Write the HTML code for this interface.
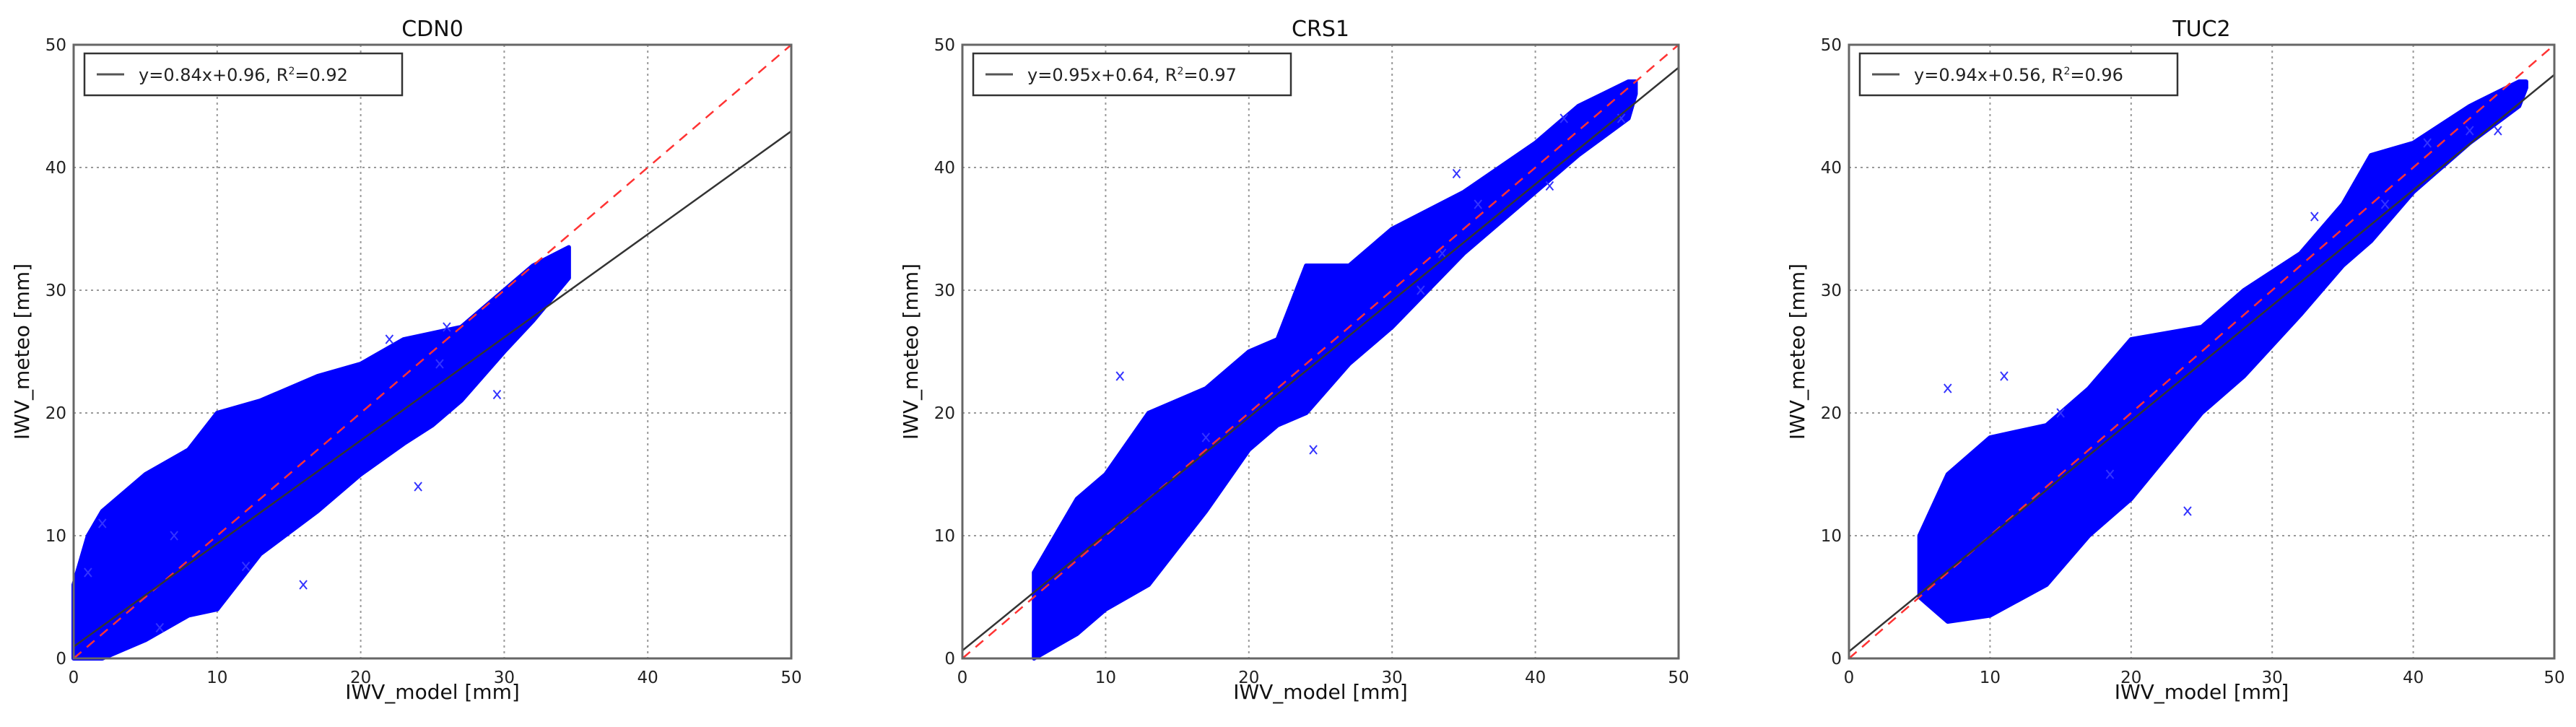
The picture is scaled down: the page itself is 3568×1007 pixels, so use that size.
<!DOCTYPE html>
<html><head><meta charset="utf-8"><style>
html,body{margin:0;padding:0;background:#fff;}
svg{display:block;font-family:"DejaVu Sans","Liberation Sans",sans-serif;}
</style></head><body>
<svg id="fig" width="3568" height="1007" viewBox="0 0 3568 1007" xmlns="http://www.w3.org/2000/svg"></svg>
<script>
const titles = ["CDN0","CRS1","TUC2"];
const slopes = [0.84,0.95,0.94];
const intercepts = [0.96,0.64,0.56];
const r2 = [0.92,0.97,0.96];
const ticks = [0,10,20,30,40,50];
// scatter band envelopes per panel
const bandX1 = [0,1,2,5,8,10,13,17,20,23,25,27,30,32,34.5];
const bandUp1 = [6,10,12,15,17,20,21,23,24,26,26.5,27,30,32,33.5];
const bandLo1 = [0,0,0,1.5,3.5,4,8.5,12,15,17.5,19,21,25,27.5,31];
const bandX2 = [5,8,10,13,17,20,22,24,27,30,35,40,43,46.5,47];
const bandUp2 = [7,13,15,20,22,25,26,32,32,35,38,42,45,47,47];
const bandLo2 = [0,2,4,6,12,17,19,20,24,27,33,38,41,44,46];
const bandX3 = [5,7,10,14,17,20,25,28,32,35,37,40,44,47.5,48];
const bandUp3 = [10,15,18,19,22,26,27,30,33,37,41,42,45,47,47];
const bandLo3 = [5,3,3.5,6,10,13,20,23,28,32,34,38,42,45,46.5];
const outX1 = [1,2,6,7,12,16,22,24,26,29.5,25.5];
const outY1 = [7,11,2.5,10,7.5,6,26,14,27,21.5,24];
const outX2 = [11,17,24.5,32,34.5,36,41,46,42,33.5];
const outY2 = [23,18,17,30,39.5,37,38.5,44,44,33];
const outX3 = [7,11,15,18.5,24,33,41,46,44,38];
const outY3 = [22,23,20,15,12,36,42,43,43,37];
const bandsX=[bandX1,bandX2,bandX3], bandsU=[bandUp1,bandUp2,bandUp3], bandsL=[bandLo1,bandLo2,bandLo3];
const outsX=[outX1,outX2,outX3], outsY=[outY1,outY2,outY3];
const L=[102,1333,2561], R=[1096,2325,3538], T=62, B=912;
const NS="http://www.w3.org/2000/svg";
const svg=document.getElementById('fig');
function mk(tag,attrs,parent){const e=document.createElementNS(NS,tag);for(const k in attrs)e.setAttribute(k,attrs[k]);(parent||svg).appendChild(e);return e;}
for(let p=0;p<3;p++){
  const sx=v=>L[p]+(R[p]-L[p])*v/50, sy=v=>B-(B-T)*v/50;
  const g=mk('g',{});
  
  
  // grid
  ticks.slice(1,5).forEach(t=>{
    const gv=mk('line',{x1:sx(t),x2:sx(t),y1:T,y2:B,stroke:'#999','stroke-width':2,'stroke-dasharray':'3,5'},g);
    
    
    const gh=mk('line',{x1:L[p],x2:R[p],y1:sy(t),y2:sy(t),stroke:'#999','stroke-width':2,'stroke-dasharray':'3,5'},g);
    
    
  });
  // band
  const xs=bandsX[p],up=bandsU[p],lo=bandsL[p];
  let pts=xs.map((x,i)=>sx(x)+','+sy(up[i]));
  for(let i=xs.length-1;i>=0;i--)pts.push(sx(xs[i])+','+sy(lo[i]));
  const poly=mk('polygon',{points:pts.join(' '),fill:'#0000ff',stroke:'#0000ff','stroke-width':6,'stroke-linejoin':'round'},g);
  
  
  outsX[p].forEach((x,i)=>{
    const cx=sx(x),cy=sy(outsY[p][i]);
    const m=mk('path',{d:`M${cx-5},${cy-6}L${cx+5},${cy+6}M${cx+5},${cy-6}L${cx-5},${cy+6}`,stroke:'#3333ff','stroke-width':2},g);
    
    
  });
  // 1:1 line
  const d=mk('line',{x1:sx(0),y1:sy(0),x2:sx(50),y2:sy(50),stroke:'#ff3333','stroke-width':2.5,'stroke-dasharray':'14,10'},g);
  
  
  // fit line
  let y0=intercepts[p], y50=slopes[p]*50+intercepts[p];
  const f=mk('line',{x1:sx(0),y1:sy(y0),x2:sx(50),y2:sy(y50),stroke:'#333','stroke-width':2.5},g);
  
  
  // axes frame
  const fr=mk('rect',{x:L[p],y:T,width:R[p]-L[p],height:B-T,fill:'none',stroke:'#666','stroke-width':3},g);
  
  
  ticks.forEach(t=>{
    const xl=mk('text',{x:sx(t),y:B+34,'text-anchor':'middle','font-size':23,fill:'#222'},g);
    xl.textContent=t;
    
    
    const yl=mk('text',{x:L[p]-10,y:sy(t)+8,'text-anchor':'end','font-size':23,fill:'#222'},g);
    yl.textContent=t;
    
    
  });
  const ti=mk('text',{x:(L[p]+R[p])/2,y:50,'text-anchor':'middle','font-size':30,fill:'#111'},g);
  ti.textContent=titles[p];
  
  
  const xt=mk('text',{x:(L[p]+R[p])/2,y:968,'text-anchor':'middle','font-size':28,fill:'#111'},g);
  xt.textContent='IWV_model [mm]';
  
  
  const yx=L[p]-62, yy=(T+B)/2;
  const yt=mk('text',{x:yx,y:yy,'text-anchor':'middle','font-size':28,fill:'#111',transform:`rotate(-90 ${yx} ${yy})`},g);
  yt.textContent='IWV_meteo [mm]';
  
  
  // legend
  const lg=mk('g',{},g);
  
  
  mk('rect',{x:L[p]+15,y:74,width:440,height:58,fill:'#fff',stroke:'#333','stroke-width':2.5},lg);
  mk('line',{x1:L[p]+32,x2:L[p]+70,y1:103,y2:103,stroke:'#555','stroke-width':3},lg);
  const lt=mk('text',{x:L[p]+90,y:112,'font-size':24,fill:'#222'},lg);
  lt.innerHTML=`y=${slopes[p].toFixed(2)}x+${intercepts[p].toFixed(2)}, R<tspan dy="-9" font-size="14">2</tspan><tspan dy="9">=${r2[p].toFixed(2)}</tspan>`;
  
  
}
</script>
</body></html>
